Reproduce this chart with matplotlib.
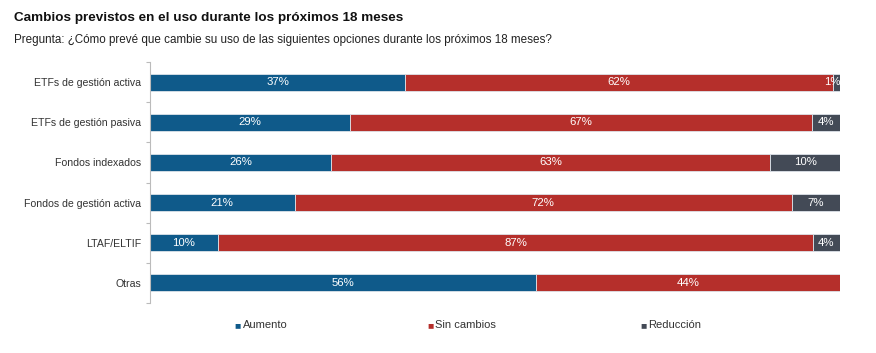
import matplotlib
matplotlib.use("Agg")
import matplotlib.pyplot as plt
import numpy as np

plt.rcParams['font.family'] = ['Liberation Sans', 'DejaVu Sans']

categories = ["ETFs de gestión activa", "ETFs de gestión pasiva", "Fondos indexados",
              "Fondos de gestión activa", "LTAF/ELTIF", "Otras"]
aumento = [37, 29, 26, 21, 10, 56]
sin_cambios = [62, 67, 63, 72, 87, 44]
reduccion = [1, 4, 10, 7, 4, 0]
series_names = ["Aumento", "Sin cambios", "Reducción"]
colors = ["#0f5a8a", "#b52f2b", "#434a56"]

data = np.array([aumento, sin_cambios, reduccion], dtype=float)
totals = data.sum(axis=0)
widths = data / totals * 100

fig = plt.figure(figsize=(8.76, 3.53), dpi=100)
ax = fig.add_axes([0.171, 0.142, 0.788, 0.682])

y = np.arange(len(categories))
left = np.zeros(len(categories))
for i in range(3):
    ax.barh(y, widths[i], left=left, height=0.42, color=colors[i],
            edgecolor="#dde3ea", linewidth=0.6, label=series_names[i])
    for j in range(len(categories)):
        v = data[i, j]
        if v > 0:
            cx = left[j] + widths[i, j] / 2
            if v == 1:
                cx = left[j] + widths[i, j] + 0.05
                ax.text(cx, y[j], f"{int(v)}%", ha="right", va="center",
                        color="white", fontsize=8.2)
            else:
                ax.text(cx, y[j], f"{int(v)}%", ha="center", va="center",
                        color="white", fontsize=8.2)
    left += widths[i]

ax.set_xlim(0, 100)
ax.set_ylim(len(categories) - 0.5, -0.5)
ax.set_yticks(y)
ax.set_yticklabels(categories, fontsize=7.6, color="#333333")
ax.tick_params(axis="y", which="major", length=0, pad=6.5)
ax.set_yticks(np.arange(-0.5, len(categories), 1.0), minor=True)
ax.tick_params(axis="y", which="minor", length=3, color="#bbbbbb", width=0.8)
ax.set_xticks([])
for s in ["top", "right", "bottom"]:
    ax.spines[s].set_visible(False)
ax.spines["left"].set_color("#bbbbbb")
ax.spines["left"].set_linewidth(0.8)

fig.text(0.016, 0.95, "Cambios previstos en el uso durante los próximos 18 meses",
         fontsize=9.7, fontweight="bold", color="#111111", va="center")
fig.text(0.016, 0.887, "Pregunta: ¿Cómo prevé que cambie su uso de las siguientes opciones durante los próximos 18 meses?",
         fontsize=8.35, color="#222222", va="center")

legend_x = [0.268, 0.488, 0.731]
for xi, name, c in zip(legend_x, series_names, colors):
    fig.text(xi, 0.08, "■", color=c, fontsize=7.5, va="center", ha="left")
    fig.text(xi + 0.009, 0.08, name, color="#333333", fontsize=8, va="center", ha="left")

fig.savefig("out.png", dpi=100)
